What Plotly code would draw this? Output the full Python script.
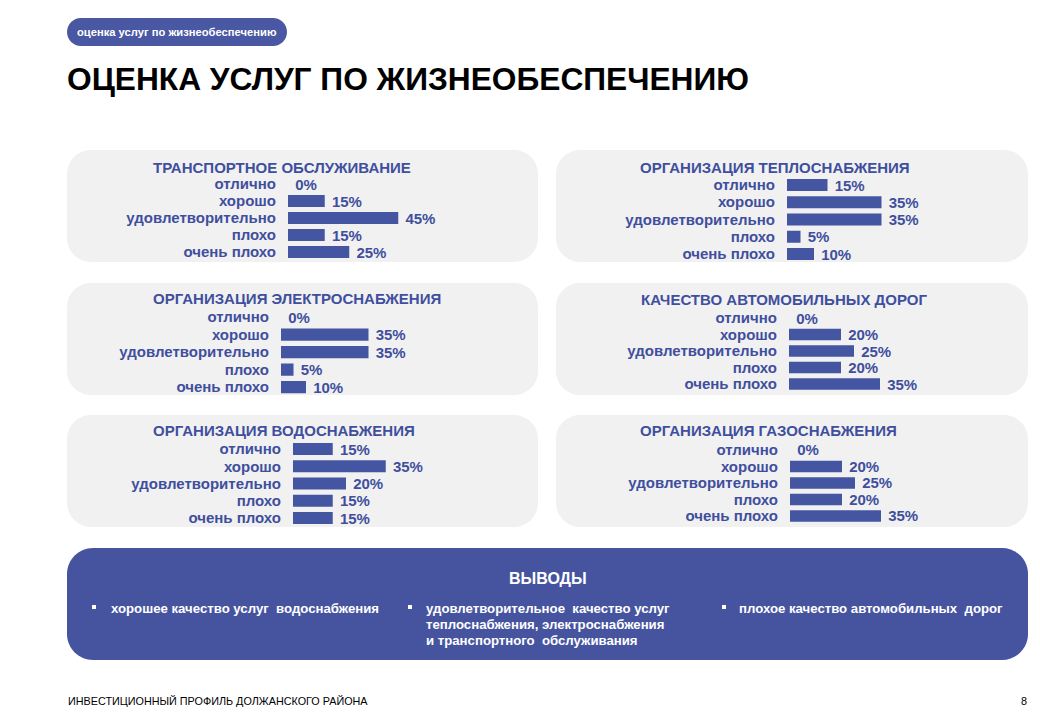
import plotly.graph_objects as go

# ---------------- data ----------------
categories = ["отлично", "хорошо", "удовлетворительно", "плохо", "очень плохо"]

panel_titles = [
    "ТРАНСПОРТНОЕ ОБСЛУЖИВАНИЕ",
    "ОРГАНИЗАЦИЯ ТЕПЛОСНАБЖЕНИЯ",
    "ОРГАНИЗАЦИЯ ЭЛЕКТРОСНАБЖЕНИЯ",
    "КАЧЕСТВО АВТОМОБИЛЬНЫХ ДОРОГ",
    "ОРГАНИЗАЦИЯ ВОДОСНАБЖЕНИЯ",
    "ОРГАНИЗАЦИЯ ГАЗОСНАБЖЕНИЯ",
]

transport = [0, 15, 45, 15, 25]
heating = [15, 35, 35, 5, 10]
electricity = [0, 35, 35, 5, 10]
roads = [0, 20, 25, 20, 35]
water = [15, 35, 20, 15, 15]
gas = [0, 20, 25, 20, 35]

series = [transport, heating, electricity, roads, water, gas]

page_tag = "оценка услуг по жизнеобеспечению"
page_title = "ОЦЕНКА УСЛУГ ПО ЖИЗНЕОБЕСПЕЧЕНИЮ"
conclusions_title = "ВЫВОДЫ"
conclusions = [
    ["хорошее качество услуг  водоснабжения"],
    ["удовлетворительное  качество услуг", "теплоснабжения, электроснабжения", "и транспортного  обслуживания"],
    ["плохое качество автомобильных  дорог"],
]
footer_text = "ИНВЕСТИЦИОННЫЙ ПРОФИЛЬ ДОЛЖАНСКОГО РАЙОНА"
page_number = "8"

# ---------------- layout helpers ----------------
W, H = 1040, 720
OFF = 8  # page body margin in the browser
BAR = "#4455A2"
TXT = "#3F4F9E"
PANEL_BG = "#F1F1F1"
SANS = "Liberation Sans, Arial, sans-serif"


def px(x):
    return (x - OFF) / W


def py(y):
    return 1 - (y - OFF) / H


def rrect(x0, y0, x1, y1, r):
    k = 0.5523 * r
    pts = [
        f"M{px(x0 + r)},{py(y0)}",
        f"L{px(x1 - r)},{py(y0)}",
        f"C{px(x1 - r + k)},{py(y0)} {px(x1)},{py(y0 + r - k)} {px(x1)},{py(y0 + r)}",
        f"L{px(x1)},{py(y1 - r)}",
        f"C{px(x1)},{py(y1 - r + k)} {px(x1 - r + k)},{py(y1)} {px(x1 - r)},{py(y1)}",
        f"L{px(x0 + r)},{py(y1)}",
        f"C{px(x0 + r - k)},{py(y1)} {px(x0)},{py(y1 - r + k)} {px(x0)},{py(y1 - r)}",
        f"L{px(x0)},{py(y0 + r)}",
        f"C{px(x0)},{py(y0 + r - k)} {px(x0 + r - k)},{py(y0)} {px(x0 + r)},{py(y0)}",
        "Z",
    ]
    return " ".join(pts)


# panel geometry (pixels): box, title pos, bar start x, first/last row centre, px per %
panels = [
    dict(box=(67, 150, 538, 262), tx=151, ty=167, bx=288, r0=184, r1=252, s=2.45),
    dict(box=(556, 150, 1028, 262), tx=638, ty=167, bx=787, r0=185, r1=254, s=2.7),
    dict(box=(67, 283, 538, 395), tx=151, ty=298, bx=281, r0=317, r1=387, s=2.5),
    dict(box=(556, 283, 1028, 395), tx=639, ty=299, bx=789, r0=318, r1=384, s=2.6),
    dict(box=(67, 415, 538, 527), tx=151, ty=430, bx=293, r0=449, r1=518, s=2.65),
    dict(box=(556, 415, 1028, 527), tx=638, ty=430, bx=790, r0=450, r1=516, s=2.6),
]

fig = go.Figure()
shapes = []
annotations = []
layout_axes = {}

for i, (p, vals, title) in enumerate(zip(panels, series, panel_titles), start=1):
    x0, y0, x1, y1 = p["box"]
    shapes.append(dict(type="path", path=rrect(x0, y0, x1, y1, 24), xref="paper", yref="paper",
                       fillcolor=PANEL_BG, line=dict(width=0), layer="below"))
    annotations.append(dict(text=f"<b>{title}</b>", x=px(p["tx"]), y=py(p["ty"]), xref="paper", yref="paper",
                            xanchor="left", yanchor="middle", showarrow=False,
                            font=dict(family=SANS, size=15, color=TXT)))
    step = (p["r1"] - p["r0"]) / 4
    ydom = [py(p["r1"] + step / 2), py(p["r0"] - step / 2)]
    rng = 50
    xdom = [px(p["bx"]), px(p["bx"] + p["s"] * rng)]
    sfx = "" if i == 1 else str(i)
    xa = "x" + sfx
    ya = "y" + sfx
    fig.add_trace(go.Bar(
        x=vals, y=categories, orientation="h", xaxis=xa, yaxis=ya,
        marker=dict(color=BAR, line=dict(width=0)),
        text=[f"\u00a0{v}%" for v in vals], textposition="outside", cliponaxis=False,
        constraintext="none",
        textfont=dict(family=SANS, size=15, color=TXT, weight="bold"),
        showlegend=False, hoverinfo="skip",
    ))
    layout_axes["xaxis" + sfx] = dict(domain=xdom, range=[0, rng], visible=False, fixedrange=True, anchor=ya)
    layout_axes["yaxis" + sfx] = dict(
        domain=ydom, type="category", autorange="reversed", showgrid=False, showline=False,
        zeroline=False, ticks="", ticklabelstandoff=11, anchor=xa,
        tickmode="array", tickvals=categories, ticktext=categories,
        tickfont=dict(family=SANS, size=15, color=TXT, weight="bold"), fixedrange=True)

# top pill
shapes.append(dict(type="path", path=rrect(67, 18, 287, 46, 14), xref="paper", yref="paper",
                   fillcolor="#4A58A3", line=dict(width=0), layer="below"))
annotations.append(dict(text=page_tag, x=px(177), y=py(32), xref="paper", yref="paper",
                        xanchor="center", yanchor="middle", showarrow=False,
                        font=dict(family=SANS, size=11.2, color="white", weight="bold")))
# main title
annotations.append(dict(text=f"<b>{page_title}</b>", x=px(65), y=py(79), xref="paper", yref="paper",
                        xanchor="left", yanchor="middle", showarrow=False,
                        font=dict(family=SANS, size=31.7, color="black")))
# conclusions box
shapes.append(dict(type="path", path=rrect(67, 548, 1028, 660, 26), xref="paper", yref="paper",
                   fillcolor="#4654A0", line=dict(width=0), layer="below"))
annotations.append(dict(text=f"<b>{conclusions_title}</b>", x=px(548), y=py(578), xref="paper", yref="paper",
                        xanchor="center", yanchor="middle", showarrow=False,
                        font=dict(family=SANS, size=16, color="white")))
bullet_x = [94, 410, 724]
text_x = [109, 424, 737]
for bx_, tx_, lines in zip(bullet_x, text_x, conclusions):
    shapes.append(dict(type="rect", xref="paper", yref="paper",
                       x0=px(bx_ - 2), x1=px(bx_ + 2), y0=py(609), y1=py(605),
                       fillcolor="white", line=dict(width=0)))
    for j, line in enumerate(lines):
        annotations.append(dict(text=line, x=px(tx_), y=py(608 + 16 * j), xref="paper", yref="paper",
                                xanchor="left", yanchor="middle", align="left", showarrow=False,
                                font=dict(family=SANS, size=13.2, color="white", weight="bold")))
# footer
annotations.append(dict(text=footer_text, x=px(66), y=py(701), xref="paper", yref="paper",
                        xanchor="left", yanchor="middle", showarrow=False,
                        font=dict(family=SANS, size=10.8, color="black")))
annotations.append(dict(text=page_number, x=px(1029), y=py(701), xref="paper", yref="paper",
                        xanchor="right", yanchor="middle", showarrow=False,
                        font=dict(family=SANS, size=10.8, color="black")))

fig.update_layout(
    width=W, height=H, margin=dict(l=0, r=0, t=0, b=0),
    paper_bgcolor="white", plot_bgcolor="rgba(0,0,0,0)",
    bargap=0.3, shapes=shapes, annotations=annotations, showlegend=False,
    **layout_axes,
)

fig.write_html("out.html", config={"displayModeBar": False})
